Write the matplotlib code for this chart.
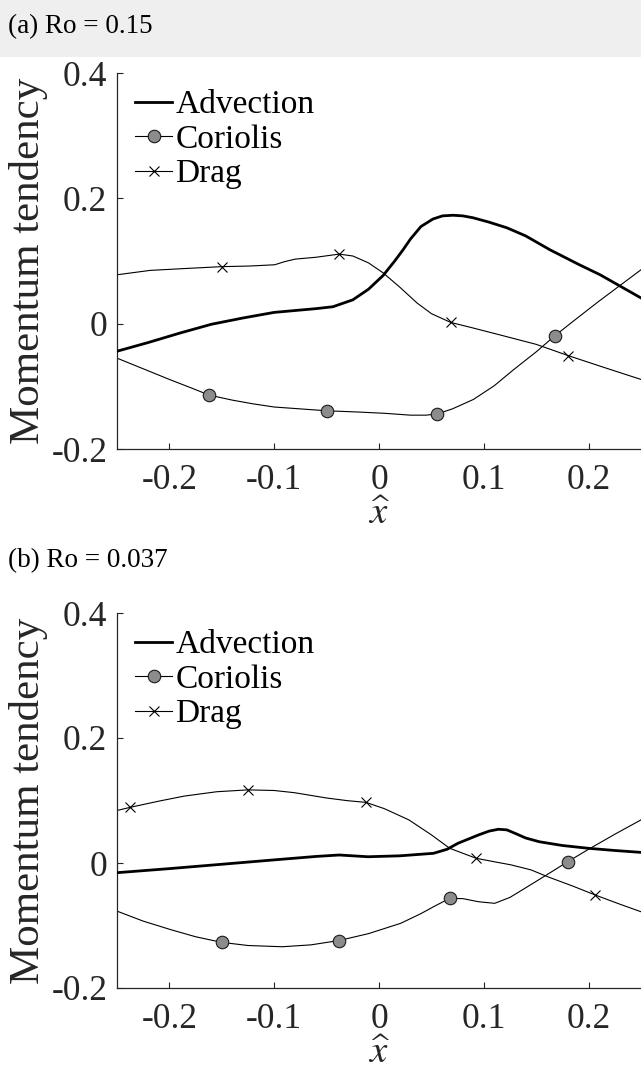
import matplotlib
matplotlib.use("Agg")
import matplotlib.pyplot as plt
from matplotlib.patches import Rectangle

plt.rcParams["font.family"] = ["Liberation Serif", "DejaVu Serif"]
plt.rcParams["mathtext.fontset"] = "stix"
plt.rcParams["axes.unicode_minus"] = False

# ---- Panel (a): Ro = 0.15 ----
adv_a_x = [-0.25, -0.22, -0.19, -0.16, -0.13, -0.10, -0.08, -0.06, -0.044, -0.025,
           -0.01, 0.004, 0.015, 0.023, 0.03, 0.04, 0.0515, 0.0606, 0.0706, 0.08,
           0.0897, 0.105, 0.122, 0.14, 0.163, 0.19, 0.211, 0.23, 0.25]
adv_a_y = [-0.044, -0.030, -0.015, -0.001, 0.009, 0.018, 0.021, 0.024, 0.027, 0.038,
           0.055, 0.077, 0.100, 0.118, 0.135, 0.155, 0.167, 0.172, 0.173, 0.172,
           0.169, 0.162, 0.153, 0.140, 0.118, 0.095, 0.078, 0.060, 0.041]

cor_a_x = [-0.25, -0.225, -0.2, -0.18, -0.162, -0.14, -0.12, -0.1, -0.075, -0.05,
           -0.02, 0.005, 0.03, 0.045, 0.0556, 0.07, 0.09, 0.11, 0.128, 0.15,
           0.168, 0.19, 0.21, 0.23, 0.25]
cor_a_y = [-0.055, -0.072, -0.089, -0.102, -0.114, -0.122, -0.128, -0.133, -0.136, -0.139,
           -0.141, -0.143, -0.146, -0.146, -0.144, -0.136, -0.121, -0.099, -0.074, -0.045,
           -0.019, 0.010, 0.036, 0.061, 0.086]
cor_a_marks = [-0.162, -0.05, 0.0556, 0.168]

drag_a_x = [-0.25, -0.2185, -0.185, -0.15, -0.123, -0.0995, -0.09, -0.08, -0.06, -0.038,
            -0.025, -0.01, 0.004, 0.02, 0.0363, 0.05, 0.0684, 0.09, 0.1155, 0.15,
            0.1806, 0.215, 0.25]
drag_a_y = [0.078, 0.085, 0.088, 0.091, 0.092, 0.094, 0.099, 0.103, 0.106, 0.111,
            0.108, 0.097, 0.081, 0.058, 0.033, 0.016, 0.002, -0.007, -0.018, -0.033,
            -0.051, -0.070, -0.089]
drag_a_marks = [-0.15, -0.038, 0.0684, 0.1806]

# ---- Panel (b): Ro = 0.037 ----
adv_b_x = [-0.25, -0.2, -0.147, -0.1, -0.06, -0.038, -0.0105, 0.02, 0.052, 0.065,
           0.0753, 0.0948, 0.105, 0.114, 0.122, 0.1298, 0.14, 0.153, 0.175, 0.2,
           0.225, 0.25]
adv_b_y = [-0.0155, -0.009, -0.0016, 0.005, 0.0105, 0.0128, 0.010, 0.0115, 0.0155, 0.022,
           0.0315, 0.0448, 0.051, 0.054, 0.053, 0.0475, 0.040, 0.034, 0.028, 0.0235,
           0.020, 0.017]

cor_b_x = [-0.25, -0.225, -0.198, -0.175, -0.15, -0.125, -0.0925, -0.065, -0.038, -0.01,
           0.0207, 0.04, 0.052, 0.0675, 0.08, 0.095, 0.1104, 0.125, 0.1416, 0.16,
           0.18, 0.2, 0.225, 0.25]
cor_b_y = [-0.077, -0.093, -0.107, -0.118, -0.127, -0.132, -0.134, -0.131, -0.124, -0.113,
           -0.0965, -0.081, -0.070, -0.0565, -0.057, -0.062, -0.0645, -0.055, -0.038, -0.019,
           0.002, 0.022, 0.046, 0.069]
cor_b_marks = [-0.15, -0.038, 0.0675, 0.18]

drag_b_x = [-0.25, -0.2376, -0.21, -0.186, -0.155, -0.1252, -0.1, -0.0807, -0.05, -0.03,
            -0.0125, 0.005, 0.0285, 0.05, 0.0675, 0.0928, 0.11, 0.126, 0.145, 0.161,
            0.185, 0.206, 0.23, 0.25]
drag_b_y = [0.084, 0.089, 0.099, 0.107, 0.114, 0.117, 0.116, 0.1125, 0.104, 0.0997,
            0.097, 0.087, 0.069, 0.045, 0.0235, 0.0075, 0.002, -0.003, -0.011, -0.022,
            -0.037, -0.051, -0.066, -0.078]
drag_b_marks = [-0.2376, -0.1252, -0.0125, 0.0928, 0.206]

x_ticks = [-0.2, -0.1, 0, 0.1, 0.2]
x_ticklabels = ["-0.2", "-0.1", "0", "0.1", "0.2"]
y_ticks = [-0.2, 0, 0.2, 0.4]
y_ticklabels = ["-0.2", "0", "0.2", "0.4"]

panels = [
    ("(a) Ro = 0.15", adv_a_x, adv_a_y, cor_a_x, cor_a_y, cor_a_marks,
     drag_a_x, drag_a_y, drag_a_marks),
    ("(b) Ro = 0.037", adv_b_x, adv_b_y, cor_b_x, cor_b_y, cor_b_marks,
     drag_b_x, drag_b_y, drag_b_marks),
]

W, H = 641, 1075
fig = plt.figure(figsize=(W / 100, H / 100), dpi=100)
fig.patch.set_facecolor("white")

# light grey heading band
fig.patches.append(Rectangle((0, 1 - 57 / H), 1, 57 / H, transform=fig.transFigure,
                             facecolor="#efefef", edgecolor="none", zorder=0))

axes_px = [(73, 449), (613, 988)]   # top / bottom in pixels
title_base = [33, 567]
left_px = 117
ink = "#262626"


def mark_index(xs, marks):
    return [xs.index(m) for m in marks]


for (title, ax_, ay_, cx_, cy_, cm_, dx_, dy_, dm_), (top, bot), tb in zip(
        panels, axes_px, title_base):
    ax = fig.add_axes([left_px / W, 1 - bot / H, (W - left_px) / W, (bot - top) / H])
    ax.plot(ax_, ay_, color="black", lw=2.0, label="Advection", zorder=3)
    ax.plot(cx_, cy_, color="black", lw=0.8, marker="o", markersize=9,
            markerfacecolor="#8c8c8c", markeredgecolor="#1a1a1a", markeredgewidth=0.8,
            markevery=mark_index(cx_, cm_), label="Coriolis", zorder=2)
    ax.plot(dx_, dy_, color="black", lw=0.8, marker="x", markersize=7.5,
            markeredgewidth=0.8, markevery=mark_index(dx_, dm_), label="Drag", zorder=2)

    ax.set_xlim(-0.25, 0.25)
    ax.set_ylim(-0.2, 0.4)
    ax.set_xticks(x_ticks)
    ax.set_xticklabels(x_ticklabels)
    ax.set_yticks(y_ticks)
    ax.set_yticklabels(y_ticklabels)
    for s in ("top", "right"):
        ax.spines[s].set_visible(False)
    for s in ("left", "bottom"):
        ax.spines[s].set_color(ink)
        ax.spines[s].set_linewidth(0.9)
    ax.tick_params(direction="in", length=4.5, width=0.8, color=ink,
                   labelsize=25.5, labelcolor=ink)
    ax.tick_params(axis="y", pad=7)
    ax.tick_params(axis="x", pad=11)
    ax.set_xlabel(r"$\widehat{x}$", fontsize=28, color=ink, labelpad=-1)
    ax.set_ylabel("Momentum tendency", fontsize=31, color=ink, labelpad=2)
    ax.patch.set_alpha(0)

    leg = ax.legend(loc="upper left", bbox_to_anchor=(0.035, 0.955), frameon=False,
                    fontsize=24, handlelength=1.1, handletextpad=0.1,
                    labelspacing=0.12, borderpad=0, borderaxespad=0, numpoints=1)
    for t in leg.get_texts():
        t.set_color("black")

    fig.text(8 / W, 1 - tb / H, title, fontsize=19.5, color="black",
             ha="left", va="baseline")

fig.savefig("out.png", dpi=100, facecolor="white")
